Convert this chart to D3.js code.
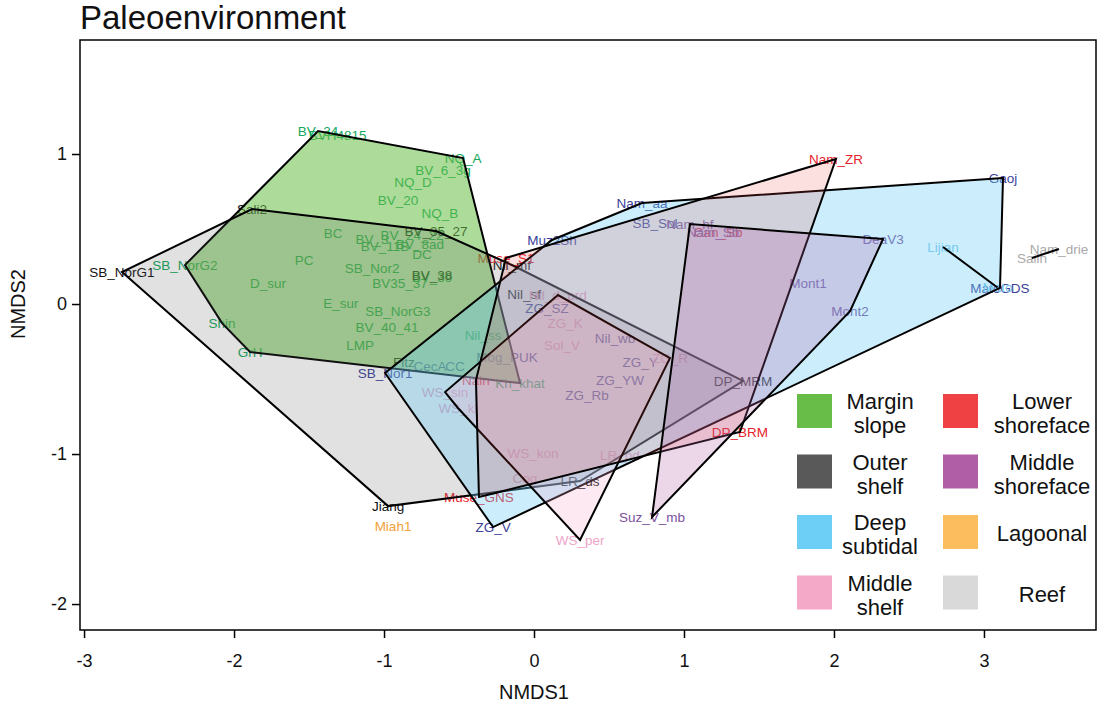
<!DOCTYPE html>
<html><head><meta charset="utf-8">
<script src="https://cdn.jsdelivr.net/npm/d3@7"></script>
<style>body{margin:0;background:#fff;} svg{display:block;font-family:"Liberation Sans",Arial,Helvetica,sans-serif;}</style>
</head><body><svg id="c" width="1100" height="710"></svg>
<script>
// ---- data ----
const groups = ["Margin slope","Outer shelf","Deep subtidal","Middle shelf","Lower shoreface","Middle shoreface","Lagoonal","Reef"];
const legendLines = [["Margin","slope"],["Outer","shelf"],["Deep","subtidal"],["Middle","shelf"],["Lower","shoreface"],["Middle","shoreface"],["Lagoonal"],["Reef"]];
const groupColors = ["#67bd47","#595959","#6dcff6","#f4a9c9","#ef4044","#b05ea5","#fbbd5e","#d9d9d9"];
const groupAlpha  = [0.55,0.18,0.35,0.25,0.17,0.25,0.4,0.5];
const labelColors = {G:"#10a85a",K:"#111111",B:"#3b3f9a",LB:"#7ec8ea",R:"#e8222c",P:"#7b4f9d",PK:"#eea4c8",O:"#f3a13a",GR:"#a9a9a9"};
const xTicks = [-3,-2,-1,0,1,2,3];
const yTicks = [-2,-1,0,1];
// label, NMDS1, NMDS2, label colour
const marginSlope = [
 ["BV_34",-1.44,1.153,"G"],["BVH4815",-1.31,1.127,"G"],["NQ_A",-0.473,0.973,"G"],["BV_6_3g",-0.607,0.893,"G"],
 ["NQ_D",-0.807,0.813,"G"],["BV_20",-0.907,0.693,"G"],["NQ_B",-0.627,0.607,"G"],["BC",-1.34,0.473,"G"],
 ["BV_3",-1.08,0.433,"G"],["BV_11B",-0.993,0.387,"G"],["BV_8ad",-0.76,0.40,"G"],["BV_24_22",-0.813,0.46,"G"],
 ["DC",-0.747,0.333,"G"],["PC",-1.533,0.293,"G"],["SB_Nor2",-1.08,0.24,"G"],["D_sur",-1.773,0.14,"G"],
 ["BV35_37",-0.893,0.14,"G"],["BV_39",-0.68,0.18,"G"],["E_sur",-1.287,0.007,"G"],["SB_NorG3",-0.907,-0.047,"G"],
 ["BV_40_41",-0.98,-0.153,"G"],["LMP",-1.16,-0.273,"G"],["Shin",-2.08,-0.127,"G"],["GrH",-1.893,-0.32,"G"],
 ["SB_NorG2",-2.327,0.26,"G"],["Nil_ss",-0.34,-0.207,"G"],["Kh_khat",-0.093,-0.527,"G"],["CC",-0.527,-0.413,"B"]
];
const outerShelf = [
 ["SB_NorG1",-2.747,0.213,"K"],["Sali2",-1.88,0.633,"K"],["BV_35_27",-0.653,0.487,"K"],["BV_38",-0.68,0.193,"K"],
 ["Nil_mf",-0.147,0.26,"K"],["Nil_sf",-0.065,0.067,"K"],["Fitz",-0.867,-0.387,"K"],["DP_MRM",1.393,-0.513,"K"],
 ["LR_ds",0.307,-1.18,"K"],["Jiang",-0.973,-1.347,"K"]
];
const deepSubtidal = [
 ["SB_Nor1",-0.993,-0.46,"B"],["CecA",-0.693,-0.413,"B"],["Muz2Sh",0.12,0.427,"B"],["Nam_aa",0.72,0.673,"B"],
 ["SB_Sol",0.807,0.54,"B"],["Gaoj",3.127,0.84,"B"],["MatoGDS",3.107,0.107,"B"],["ZG_V",-0.273,-1.487,"B"],
 ["ZG_SZ",0.087,-0.027,"B"],["Mog_PUK",-0.18,-0.353,"B"],["Nil_wb",0.54,-0.227,"B"],["ZG_Y",0.707,-0.387,"B"],
 ["ZG_YW",0.573,-0.507,"B"],["ZG_Rb",0.353,-0.607,"B"]
];
const deepSubtidal2 = [["Lijian",2.727,0.38,"LB"],["Mato",3.09,0.11,"LB"]];
const middleShelf = [
 ["Nil_d_prd",0.16,0.06,"PK"],["ZG_K",0.207,-0.127,"PK"],["Sol_V",0.187,-0.273,"PK"],["ZG_R",0.907,-0.36,"PK"],
 ["WS_sin",-0.593,-0.587,"PK"],["WS_kl",-0.507,-0.693,"PK"],["WS_kon",-0.007,-0.993,"PK"],["Cog",-0.06,-1.16,"PK"],
 ["LR_pd",0.573,-1.007,"PK"],["WS_per",0.307,-1.573,"PK"]
];
const lowerShoreface = [
 ["Muse_S1",-0.187,0.307,"R"],["Nam_ZR",2.013,0.967,"R"],["Can_Sb",1.227,0.48,"R"],["DP_BRM",1.373,-0.853,"R"],
 ["Muse_GNS",-0.367,-1.287,"R"],["Nain",-0.387,-0.507,"R"]
];
const middleShoreface = [
 ["Nam_hf",1.04,0.533,"P"],["Nam_Sb",1.193,0.48,"P"],["DeaV3",2.327,0.433,"P"],["Mont1",1.827,0.14,"P"],
 ["Mont2",2.107,-0.047,"P"],["Suz_V_mb",0.787,-1.42,"P"]
];
const lagoonal = [["Miah1",-0.94,-1.48,"O"]];
const reef = [["Saiin",3.32,0.307,"GR"],["Nam_drie",3.5,0.367,"GR"]];

const hullSets = [
 {g:0, pts:marginSlope},{g:1, pts:outerShelf},{g:2, pts:deepSubtidal},{g:2, pts:deepSubtidal2},
 {g:3, pts:middleShelf},{g:4, pts:lowerShoreface},{g:5, pts:middleShoreface},{g:6, pts:lagoonal},{g:7, pts:reef}
];

// ---- drawing ----
const svg = d3.select("#c");
const L=80, R=1096, T=40, B=630;
const x = d3.scaleLinear().domain([-3.027,3.747]).range([L,R]);
const y = d3.scaleLinear().domain([-2.173,1.76]).range([B,T]);

svg.append("text").attr("x",80).attr("y",29).attr("font-size",33).attr("fill","#111").text("Paleoenvironment");

// labels (drawn first, hulls are laid over them)
const lab = svg.append("g").attr("font-size",13.5);
hullSets.forEach(h=>{
  h.pts.forEach(p=>{
    lab.append("text").attr("x",x(p[1])).attr("y",y(p[2])).attr("dy","0.35em")
      .attr("text-anchor","middle").attr("fill",labelColors[p[3]]).text(p[0]);
  });
});

// hulls
const hg = svg.append("g");
hullSets.forEach(h=>{
  const xy = h.pts.map(p=>[x(p[1]),y(p[2])]);
  if (xy.length>=3){
    const hull = d3.polygonHull(xy);
    hg.append("path").attr("d","M"+hull.join("L")+"Z")
      .attr("fill",groupColors[h.g]).attr("fill-opacity",groupAlpha[h.g])
      .attr("stroke","#000").attr("stroke-width",2).attr("stroke-linejoin","miter");
  } else if (xy.length==2){
    hg.append("line").attr("x1",xy[0][0]).attr("y1",xy[0][1]).attr("x2",xy[1][0]).attr("y2",xy[1][1])
      .attr("stroke","#000").attr("stroke-width",2);
  }
});

// box
svg.append("rect").attr("x",L).attr("y",T).attr("width",R-L).attr("height",B-T)
  .attr("fill","none").attr("stroke","#000").attr("stroke-width",1.5);

// axes
const fmt = d => String(d);
const xa = svg.append("g").attr("transform",`translate(0,${B})`)
  .call(d3.axisBottom(x).tickValues(xTicks).tickSize(8).tickPadding(16).tickFormat(fmt));
const ya = svg.append("g").attr("transform",`translate(${L},0)`)
  .call(d3.axisLeft(y).tickValues(yTicks).tickSize(8).tickPadding(5).tickFormat(fmt));
[xa,ya].forEach(a=>{
  a.select(".domain").remove();
  a.selectAll("line").attr("stroke","#000").attr("stroke-width",1.5);
  a.selectAll("text").attr("font-size",18).attr("fill","#111").attr("font-family","Liberation Sans, Arial, sans-serif");
});

svg.append("text").attr("x",534).attr("y",699).attr("text-anchor","middle").attr("font-size",20).attr("fill","#111").text("NMDS1");
svg.append("text").attr("transform",`translate(25,${y(0)}) rotate(-90)`).attr("text-anchor","middle").attr("font-size",20).attr("fill","#111").text("NMDS2");

// legend
const lg = svg.append("g").attr("font-size",22).attr("fill","#111");
groups.forEach((g,i)=>{
  const col = i<4?0:1, row = i%4;
  const sx = col===0?797:943, cy = 411 + row*60.5;
  const tx = col===0?880:1042;
  lg.append("rect").attr("x",sx).attr("y",cy-17).attr("width",35).attr("height",34).attr("fill",groupColors[i]);
  const lines = legendLines[i];
  if (lines.length===2){
    lg.append("text").attr("x",tx).attr("y",cy-2).attr("text-anchor","middle").text(lines[0]);
    lg.append("text").attr("x",tx).attr("y",cy+22).attr("text-anchor","middle").text(lines[1]);
  } else {
    lg.append("text").attr("x",tx).attr("y",cy+9).attr("text-anchor","middle").text(lines[0]);
  }
});
</script></body></html>
